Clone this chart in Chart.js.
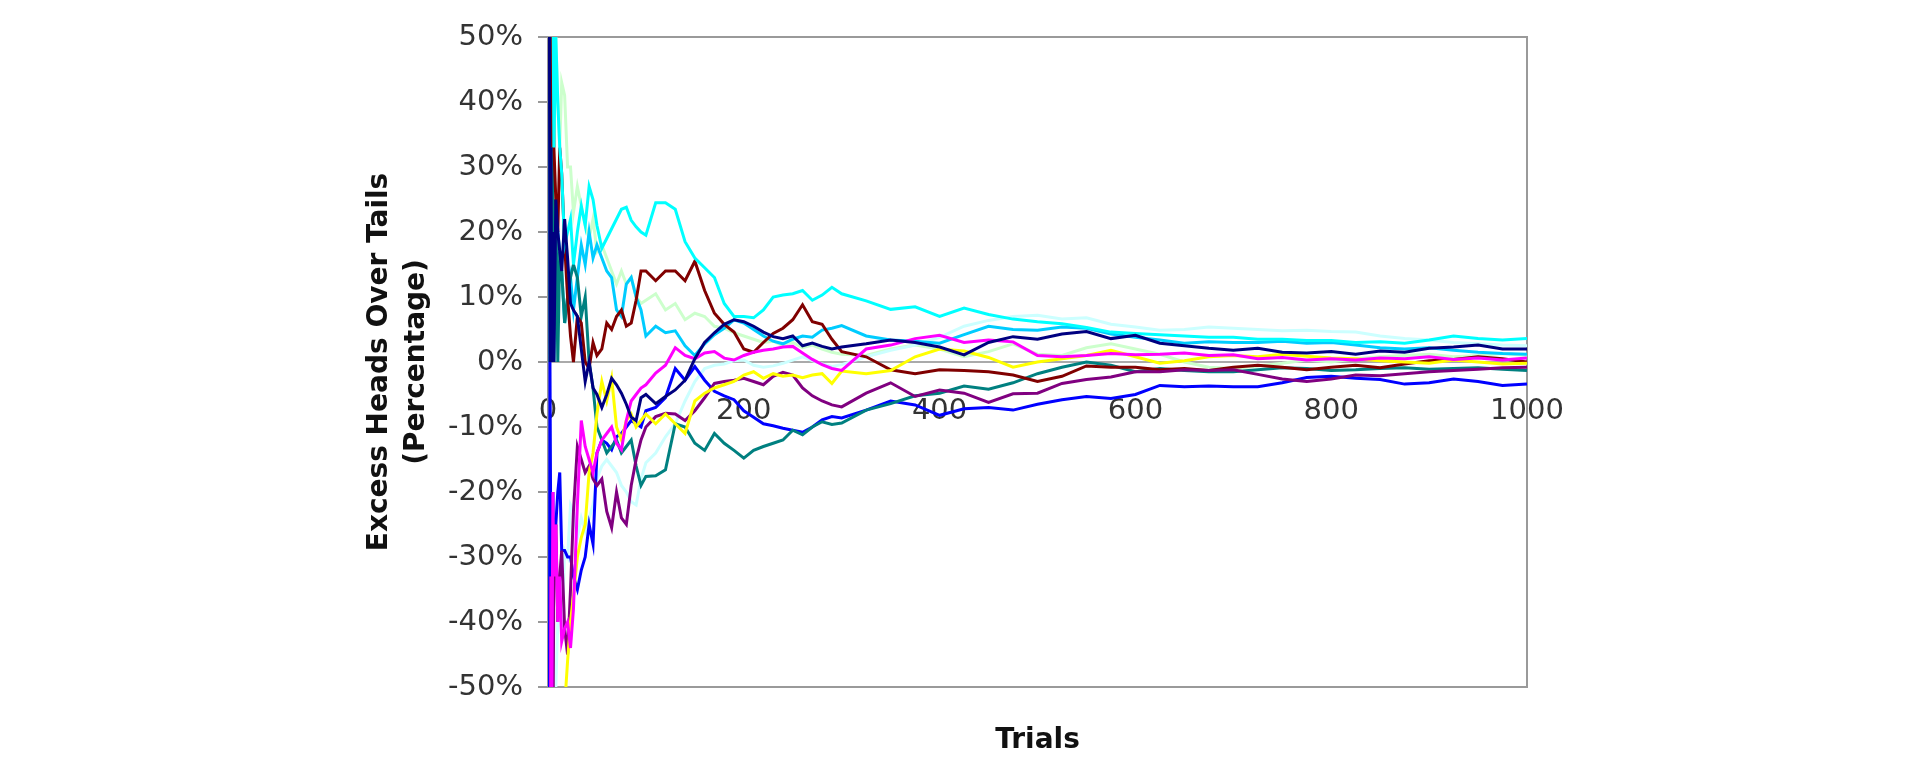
<!DOCTYPE html>
<html>
<head>
<meta charset="utf-8">
<title>Excess Heads Over Tails</title>
<script src="https://cdn.jsdelivr.net/npm/chart.js@4.4.0/dist/chart.umd.min.js"></script>
<style>
  html, body { margin: 0; padding: 0; background: #fff; }
  #canvasContainer { width: 1920px; height: 760px; }
</style>
</head>
<body>
<div id="canvasContainer"><canvas id="chart" width="1920" height="760"></canvas></div>
<script>
const trials = [1,2,3,4,5,6,8,10,12,14,17,20,23,26,30,34,38,42,46,50,
  55,60,65,70,75,80,85,90,95,100,
  110,120,130,140,150,160,170,180,190,200,210,220,230,240,250,260,270,280,290,300,
  325,350,375,400,425,450,475,500,525,550,575,600,625,650,675,700,725,750,775,800,825,850,875,900,925,950,975,1000];

// excess heads over tails, percent
const navy = [100,0,33,0,20,0,
  25,20,17,14,22,16,9,8,7,2,-3,0,-4,-5,
  -7,-5,-2.5,-3.5,-4.8,-6.5,-8.5,-9,-5.5,-5,
  -6.4,-5.3,-4.3,-2.8,0.5,3,4.5,5.8,6.5,6.2,5.5,4.6,3.9,3.6,4.0,2.5,2.9,2.4,2.0,2.3,
  2.8,3.4,3.0,2.3,1.1,3.0,3.9,3.5,4.3,4.7,3.6,4.1,2.9,2.5,2.1,1.8,2.1,1.5,1.4,1.6,1.2,1.7,1.5,2.1,2.3,2.6,2.0,2.0];
const magenta = [-100,-100,-33,-50,-20,-33,
  -25,-40,-33,-43,-41,-40,-44,-38,-22,-9,-13,-15,-17,-14,
  -12,-11,-10,-12.5,-13.5,-9,-6,-5,-4,-3.5,
  -1.7,-0.5,2.2,1.0,0.5,1.4,1.6,0.6,0.3,1.0,1.5,1.8,2.0,2.3,2.4,1.4,0.4,-0.4,-1.0,-1.3,
  2.0,2.6,3.6,4.1,3.0,3.4,3.1,1.0,0.8,1.0,1.3,1.1,1.2,1.4,1.0,1.1,0.5,0.7,0.3,0.5,0.3,0.6,0.5,0.8,0.4,0.6,0.3,0.6];
const yellow = [-100,-100,-100,-50,-60,-67,
  -50,-60,-50,-57,-53,-46,-40,-36,-30,-27,-25,-17,-14,-8,
  -3,-6,-2.5,-10,-12,-9,-8,-10,-9,-8,
  -9.5,-8,-9.5,-11,-6,-4.8,-4,-3.5,-3,-2,-1.5,-2.5,-1.8,-2.2,-2.0,-2.4,-2.0,-1.8,-3.3,-1.4,
  -1.8,-1.3,0.8,2.0,1.7,0.7,-0.8,0.0,0.5,1.0,1.8,0.8,-0.2,0.2,0.8,1.0,0.8,1.2,0.9,0.6,0.5,0.2,0.0,-0.2,0.3,0.0,-0.3,-0.2];
const cyan = [100,100,100,50,60,33,
  50,40,33,29,18,20,22,15,20,24,21,27,25,21,
  17.5,19,20.5,22,23.5,23.8,21.8,20.8,20,19.5,
  24.5,24.5,23.5,18.5,16,14.5,13,9,7,7,6.8,8,10,10.3,10.5,11,9.5,10.3,11.5,10.5,
  9.4,8.1,8.5,7.0,8.3,7.3,6.6,6.2,5.9,5.3,4.6,4.4,4.2,4.0,3.8,3.8,3.5,3.5,3.3,3.3,3.0,3.1,2.9,3.4,4.0,3.6,3.4,3.6];
const purple = [-100,-100,-33,-50,-60,-33,
  -25,-40,-33,-29,-41,-45,-35,-23,-13,-15,-17,-16,-18,-19,
  -18,-23,-25.5,-20,-24,-25,-19,-15,-12,-10,
  -8.4,-7.9,-8,-9,-7.5,-5.5,-3.3,-3,-2.8,-2.5,-3,-3.5,-2.2,-1.6,-2.0,-4.0,-5.2,-6.0,-6.6,-6.9,
  -4.8,-3.2,-5.3,-4.3,-4.8,-6.2,-4.9,-4.8,-3.3,-2.7,-2.3,-1.5,-1.5,-1.2,-1.3,-1.2,-1.9,-2.6,-3.0,-2.6,-2.0,-2.1,-1.8,-1.5,-1.3,-1.1,-0.9,-0.8];
const maroon = [100,100,33,50,60,33,
  25,20,33,29,18,10,4,0,7,6,0,-1,3,1,
  2,6,5,7,8,5.5,6,9.5,14,14,
  12.5,14,14,12.5,15.5,11,7.5,5.8,4.6,2,1.5,3,4.4,5.2,6.5,8.8,6.2,5.8,3.5,1.6,
  0.8,-1.2,-1.8,-1.2,-1.3,-1.5,-2.0,-3.0,-2.2,-0.6,-0.8,-0.8,-1.2,-1.0,-1.3,-0.8,-0.5,-0.8,-1.2,-0.8,-0.5,-0.9,-0.3,0.2,0.4,0.8,0.5,0.0];
const teal = [100,100,33,50,20,0,
  25,0,17,14,6,10,13,15,13,7,10,0,-4,-10,
  -12,-14,-13,-12,-14,-13,-12,-16,-19,-17.6,
  -17.5,-16.6,-9.5,-10,-12.5,-13.6,-11,-12.5,-13.6,-14.8,-13.6,-13,-12.5,-12,-10.5,-11.2,-10,-9.2,-9.6,-9.4,
  -7.4,-6.4,-5.2,-4.8,-3.7,-4.2,-3.2,-1.8,-0.8,0.0,-0.5,-1.5,-1.0,-1.3,-1.5,-1.5,-1.2,-0.9,-1.0,-1.3,-1.2,-1.0,-0.9,-1.1,-1.0,-0.9,-1.1,-1.3];
const blue = [-100,0,-33,-50,-20,-33,
  -25,-20,-17,-29,-29,-30,-30,-33,-35,-32,-30,-25,-28,-14,
  -12,-12.5,-13.5,-11.5,-11,-10,-9,-9.5,-10,-7.5,
  -7,-5.5,-1,-2.8,-0.7,-2.8,-4.5,-5.2,-5.8,-7.5,-8.5,-9.5,-9.8,-10.2,-10.5,-10.8,-10,-8.9,-8.4,-8.6,
  -7.4,-6.0,-6.6,-8.2,-7.2,-7.0,-7.4,-6.5,-5.8,-5.3,-5.6,-5.0,-3.6,-3.8,-3.7,-3.8,-3.8,-3.2,-2.4,-2.2,-2.5,-2.7,-3.4,-3.2,-2.6,-3.0,-3.6,-3.4];
const skyBlue = [100,0,33,0,20,0,
  25,20,17,14,6,10,13,8,13,18,15,20,16,18,
  16,14,13,8,7,12,13,10,8,4,
  5.5,4.5,4.8,2.5,1.0,2.8,4.2,5.2,6.5,6.0,5.0,4.0,3.2,2.8,3.5,4.0,3.8,4.9,5.2,5.6,
  4.0,3.4,3.2,2.9,4.2,5.5,5.0,4.9,5.4,5.2,4.3,3.8,3.4,2.9,3.1,3.0,3.0,3.2,2.9,3.0,2.6,2.2,2.0,2.2,1.8,1.5,1.3,1.2];
const lightCyan = [-100,-100,-33,-50,-60,-67,
  -50,-40,-33,-43,-29,-30,-22,-23,-27,-24,-26,-24,-22,-18,
  -16,-15,-16,-17,-19,-20,-21.5,-22,-18,-15.5,
  -14,-11.5,-9.5,-6,-3,-1,-0.5,-0.3,0.2,0.3,-0.5,-0.8,-0.6,-0.2,0.3,0.8,0.2,-0.3,-0.7,-0.4,
  0.8,1.8,2.6,3.8,5.5,6.4,7.0,7.2,6.6,6.8,5.8,5.4,4.9,5.0,5.4,5.2,5.0,4.8,4.9,4.7,4.6,4.0,3.6,3.4,3.0,2.8,2.6,2.5];
const lightGreen = [100,100,33,50,60,33,
  50,40,33,43,41,30,30,23,27,24,21,19,22,17,
  18,16,14,12,14,12,13,10,9,9.5,
  10.5,8,9,6.5,7.5,7,5.5,5.2,4.5,4,3.5,3,3.2,2.5,3,2.2,2.6,2.0,1.5,1.2,
  1.0,2.0,2.6,2.0,0.8,1.6,2.8,1.2,1.0,2.2,2.8,2.0,1.2,0.0,-0.8,-1.0,-0.6,-0.2,0.3,0.0,0.5,0.8,1.0,1.2,0.8,1.0,1.3,1.0];

const xTicks = [0, 200, 400, 600, 800, 1000];
const yTicks = [-50, -40, -30, -20, -10, 0, 10, 20, 30, 40, 50];

const series = [navy, magenta, yellow, cyan, purple, maroon, teal, blue, skyBlue, lightCyan, lightGreen];
const colors = ['#000080', '#ff00ff', '#ffff00', '#00ffff', '#800080', '#800000',
  '#008080', '#0000ff', '#00ccff', '#ccffff', '#ccffcc'];

const font = { family: 'DejaVu Sans', size: 29 };
const boldFont = { family: 'DejaVu Sans', size: 28, weight: 'bold' };

// grey frame round the plot area, under the lines
const frame = {
    id: 'frame',
    beforeDatasetsDraw(chart) {
        const { ctx, chartArea: a } = chart;
        ctx.save();
        ctx.strokeStyle = '#9a9a9a';
        ctx.lineWidth = 2;
        ctx.strokeRect(a.left, a.top, a.right - a.left, a.bottom - a.top);
        ctx.restore();
    }
};

function drawChart() {
    const datasets = series.map((values, i) => ({
        data: trials.map((t, j) => ({ x: t, y: values[j] })),
        borderColor: colors[i],
        borderWidth: 3,
        pointRadius: 0,
        tension: 0,
        fill: false,
        xAxisID: 'x',
        yAxisID: 'y'
    }));

    return new Chart(document.getElementById('chart'), {
        type: 'line',
        data: { datasets: datasets },
        plugins: [frame],
        options: {
            responsive: false,
            animation: false,
            devicePixelRatio: 1,
            layout: { padding: { left: 0, right: 393, top: 37, bottom: 0 } },
            plugins: { legend: { display: false }, tooltip: { enabled: false } },
            scales: {
                x: {
                    type: 'linear', min: 0, max: 1000, position: 'bottom',
                    afterFit: s => { s.height = 73; },
                    ticks: { display: false },
                    grid: { display: false },
                    border: { display: false },
                    title: { display: true, text: 'Trials', font: boldFont, color: '#111', padding: { top: 0, bottom: 2 } }
                },
                xt: {
                    type: 'linear', axis: 'x', min: 0, max: 1000, position: { y: 0 },
                    afterFit: s => { s.height = 0; },
                    afterBuildTicks: s => { s.ticks = xTicks.map(v => ({ value: v })); },
                    ticks: { callback: v => String(v), font: font, color: '#333', padding: 32, maxRotation: 0, autoSkip: false },
                    grid: { display: false, drawTicks: false },
                    border: { display: true, color: '#aaaaaa', width: 2 }
                },
                y: {
                    type: 'linear', min: -50, max: 50,
                    afterFit: s => { s.width = 548; },
                    afterBuildTicks: s => { s.ticks = yTicks.map(v => ({ value: v })); },
                    ticks: { callback: v => v + '%', font: font, color: '#333', padding: 15 },
                    grid: { drawOnChartArea: false, drawTicks: true, tickLength: 10, color: '#999', lineWidth: 2 },
                    border: { display: true, color: '#9a9a9a', width: 2 },
                    title: {
                        display: true,
                        text: ['Excess Heads Over Tails', '(Percentage)'],
                        font: { family: 'DejaVu Sans', size: 28, weight: 'bold', lineHeight: 1.32 },
                        color: '#111',
                        padding: { top: 361, bottom: 0 }
                    }
                }
            }
        }
    });
}

drawChart();
</script>
</body>
</html>
